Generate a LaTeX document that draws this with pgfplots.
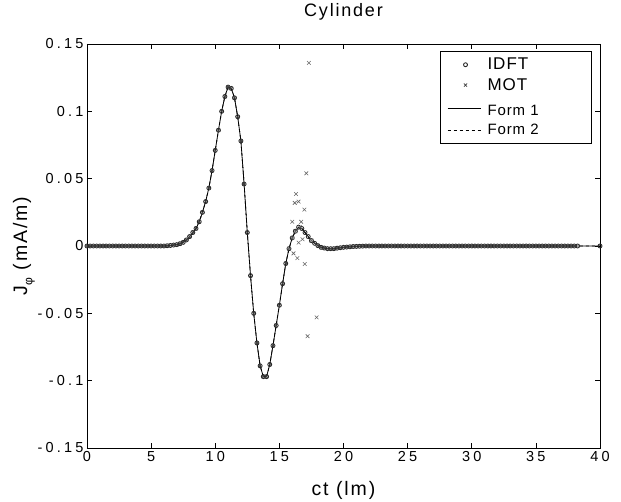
\documentclass[border=0pt]{standalone}
\usepackage{pgfplots}
\pgfplotsset{compat=1.18}
\usepackage{pgfplotstable}
\usepackage{fontspec}
\setmainfont{Liberation Sans}
\newfontfamily\spfont[LetterSpace=10]{Liberation Sans}
\newfontfamily\tkfont[LetterSpace=22]{Liberation Sans}
\newfontfamily\lgfont[LetterSpace=6]{Liberation Sans}

\pgfplotsset{
  marklegend/.style={legend image code/.code={\path[draw=none] (0bp,0bp) -- (41bp,0bp); \draw[mark repeat=1,mark phase=1,##1] plot coordinates {(21bp,0bp)};}},
  linelegend/.style={legend image code/.code={\path[draw=none] (0bp,0bp) -- (41bp,0bp); \draw[##1] (3bp,0bp) -- (36bp,0bp);}},
}

\pgfplotstableread[row sep=\\]{
x y\\
0 0\\ 0.25 0\\ 0.5 0\\ 0.75 0\\ 1 0\\ 1.25 0\\ 1.5 0\\ 1.75 0\\ 2 0\\ 2.25 0\\ 2.5 0\\ 2.75 0\\
3 0\\ 3.25 0\\ 3.5 0\\ 3.75 0\\ 4 0\\ 4.25 0\\ 4.5 0\\ 4.75 0\\ 5 0\\ 5.25 0\\ 5.5 0\\ 5.75 0\\
6 0\\ 6.25 0.0002\\ 6.5 0.0004\\ 6.75 0.0007\\ 7 0.001\\ 7.25 0.0017\\ 7.5 0.0027\\ 7.75 0.0045\\
8 0.007\\ 8.25 0.010\\ 8.5 0.013\\ 8.75 0.018\\ 9 0.025\\ 9.25 0.033\\ 9.5 0.043\\ 9.75 0.056\\
10 0.071\\ 10.25 0.086\\ 10.5 0.100\\ 10.75 0.111\\ 11 0.118\\ 11.25 0.117\\ 11.5 0.110\\ 11.75 0.096\\
12 0.078\\ 12.25 0.046\\ 12.5 0.010\\ 12.75 -0.022\\ 13 -0.050\\ 13.25 -0.072\\ 13.5 -0.089\\ 13.75 -0.097\\
14 -0.097\\ 14.25 -0.088\\ 14.5 -0.074\\ 14.75 -0.059\\ 15 -0.044\\ 15.25 -0.028\\ 15.5 -0.013\\ 15.75 -0.002\\
16 0.006\\ 16.25 0.011\\ 16.5 0.014\\ 16.75 0.013\\ 17 0.010\\ 17.25 0.007\\ 17.5 0.004\\ 17.75 0.002\\
18 0.0003\\ 18.25 -0.001\\ 18.5 -0.0015\\ 18.75 -0.002\\ 19 -0.002\\ 19.25 -0.002\\ 19.5 -0.0016\\ 19.75 -0.0013\\
20 -0.001\\ 20.25 -0.0008\\ 20.5 -0.0006\\ 20.75 -0.0004\\ 21 -0.0003\\ 21.25 -0.0002\\ 21.5 -0.0001\\ 21.75 0\\
22 0\\ 22.25 0\\ 22.5 0\\ 22.75 0\\ 23 0\\ 23.25 0\\ 23.5 0\\ 23.75 0\\ 24 0\\ 24.25 0\\ 24.5 0\\ 24.75 0\\
25 0\\ 25.25 0\\ 25.5 0\\ 25.75 0\\ 26 0\\ 26.25 0\\ 26.5 0\\ 26.75 0\\ 27 0\\ 27.25 0\\ 27.5 0\\ 27.75 0\\
28 0\\ 28.25 0\\ 28.5 0\\ 28.75 0\\ 29 0\\ 29.25 0\\ 29.5 0\\ 29.75 0\\ 30 0\\ 30.25 0\\ 30.5 0\\ 30.75 0\\
31 0\\ 31.25 0\\ 31.5 0\\ 31.75 0\\ 32 0\\ 32.25 0\\ 32.5 0\\ 32.75 0\\ 33 0\\ 33.25 0\\ 33.5 0\\ 33.75 0\\
34 0\\ 34.25 0\\ 34.5 0\\ 34.75 0\\ 35 0\\ 35.25 0\\ 35.5 0\\ 35.75 0\\ 36 0\\ 36.25 0\\ 36.5 0\\ 36.75 0\\
37 0\\ 37.25 0\\ 37.5 0\\ 37.75 0\\ 38 0\\ 38.25 0\\ 38.5 0\\ 38.75 0\\ 39 0\\ 39.25 0\\ 39.5 0\\ 39.75 0\\
40 0\\
}\curve

\pgfplotstableread[row sep=\\]{
x y\\
15.75 -0.002\\ 16.0 0.018\\ 16.2 0.032\\ 16.3 0.0386\\ 16.5 0.033\\ 16.7 0.018\\ 16.95 0.027\\
17.1 0.054\\ 17.3 0.136\\ 16.8 0.005\\ 16.5 0.0025\\ 16.1 -0.0055\\ 16.4 -0.009\\ 16.98 -0.0134\\
17.9 -0.053\\ 17.2 -0.067\\ 16.25 0.011\\ 16.6 0.014\\ 17.5 0.004\\ 16.0 0.006\\
}\motscatter

\begin{document}
\begin{tikzpicture}
\useasboundingbox (-87bp,-54bp) rectangle (534bp,448bp);
\begin{axis}[
  at={(0,0)}, anchor=south west,
  scale only axis, width=513bp, height=404bp,
  xmin=0, xmax=40, ymin=-0.15, ymax=0.15,
  xtick={0,5,...,40},
  ytick={-0.15,-0.1,-0.05,0,0.05,0.1,0.15},
  yticklabels={-0.15,-0.1,-0.05,0,0.05,0.1,0.15},
  xticklabels={0,5,10,15,20,25,30,35,40},
  tick align=inside, xtick pos=both, ytick pos=both,
  xticklabel pos=bottom, yticklabel pos=left,
  major tick length=5bp,
  tick style={black, line width=0.6bp},
  axis line style={black, line width=0.6bp},
  /pgf/number format/assume math mode=true,
  ticklabel style={font=\tkfont\fontsize{14.5bp}{16bp}\selectfont},
  title={\spfont\fontsize{18bp}{20bp}\selectfont Cylinder},
  title style={at={(axis description cs:0.5,1.064)}, anchor=center},
  xlabel={ct (lm)},
  xlabel style={font=\spfont\fontsize{19.5bp}{21bp}\selectfont, at={(axis description cs:0.5,-0.104)}, anchor=center},
  ylabel={J\raisebox{-0.5ex}{\fontsize{12bp}{12bp}\selectfont φ} (mA/m)},
  ylabel style={font=\spfont\fontsize{19.5bp}{21bp}\selectfont, at={(axis description cs:-0.123,0.5)}, anchor=center},
  legend style={at={(axis description cs:0.984,0.983)}, anchor=north east,
    draw=black, line width=0.6bp, font=\lgfont\fontsize{17bp}{19bp}\selectfont,
    inner xsep=4bp, inner ysep=5bp, row sep=3bp, cells={anchor=west}},
]
\addplot[only marks, mark=o, mark size=2bp, black!85, line width=0.85bp, marklegend,
  restrict x to domain=0:38.3]
  table[x=x,y=y] {\curve};
\addlegendentry{\makebox[98bp][l]{IDFT}}
\addplot[only marks, mark=x, mark size=2.2bp, black!75, line width=0.7bp,
  restrict x to domain=0:15.6, marklegend]
  table[x=x,y=y] {\curve};
\addlegendentry{\makebox[98bp][l]{MOT}}
\addplot[forget plot, only marks, mark=o, mark size=2bp, black!85, line width=0.85bp]
  coordinates {(40,0)};
\addplot[forget plot, only marks, mark=x, mark size=2.2bp, black!75, line width=0.7bp,
  restrict x to domain=17.8:38]
  table[x=x,y=y] {\curve};
\addplot[forget plot, only marks, mark=x, mark size=2.6bp, black!60, line width=0.6bp]
  table[x=x,y=y] {\motscatter};
\addplot[black, line width=0.8bp, no marks, linelegend]
  table[x=x,y=y] {\curve};
\addlegendentry{\makebox[98bp][l]{\rule{0pt}{17bp}\fontsize{15bp}{16bp}\selectfont Form 1}}
\addplot[black, line width=0.8bp, dash pattern=on 3bp off 3bp, no marks, linelegend]
  table[x=x,y=y] {\curve};
\addlegendentry{\makebox[98bp][l]{\fontsize{15bp}{16bp}\selectfont Form 2}}
\end{axis}
\end{tikzpicture}
\end{document}
